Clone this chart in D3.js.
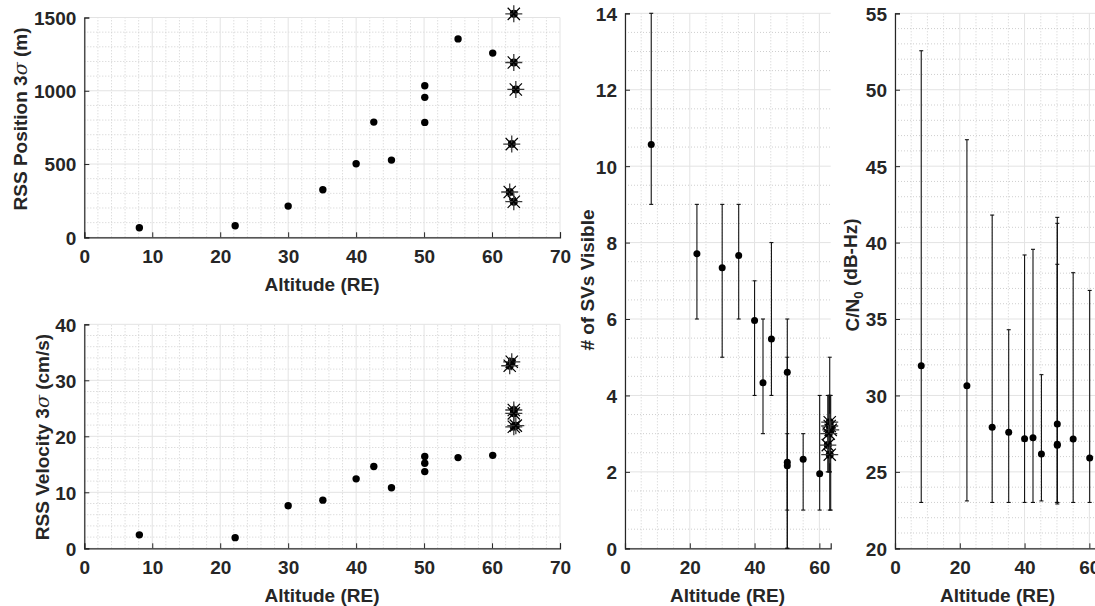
<!DOCTYPE html>
<html>
<head>
<meta charset="utf-8">
<script src="https://cdn.jsdelivr.net/npm/d3@7"></script>
<style>
  html, body { margin: 0; padding: 0; background: #fff; }
  svg { display: block; }
  text { font-family: "Liberation Sans", Arial, sans-serif; font-weight: bold; fill: #262626; }
</style>
</head>
<body>
<svg id="chart" width="1095" height="606"></svg>
<script>
// Sample altitudes (Earth radii) for the regular passes
const altitude = [8.1, 22.2, 30.0, 35.1, 40.0, 42.6, 45.2, 50.1, 50.1, 50.1, 55.0, 60.1];
// RSS 3-sigma position (m) and velocity (cm/s)
const posSigma = [65, 79, 213, 325, 502, 786, 527, 784, 955, 1034, 1354, 1257];
const velSigma = [2.4, 1.9, 7.6, 8.6, 12.4, 14.6, 10.8, 13.7, 15.2, 16.4, 16.2, 16.6];

// Near-apogee cases (asterisk markers)
const starAltitude = [63.2, 63.2, 63.5, 62.9, 62.6, 63.2];
const starPos = [1525, 1193, 1009, 636, 309, 243];
const starVel = [24.7, 21.7, 21.9, 33.3, 32.6, 24.1];

// Number of visible SVs: mean with min/max range
const svMean = [10.57, 7.71, 7.34, 7.66, 5.96, 4.33, 5.48, 4.61, 2.25, 2.16, 2.33, 1.95];
const svMin  = [9, 6, 5, 6, 4, 3, 4, 1, 0, 0, 1, 1];
const svMax  = [14, 9, 9, 9, 7, 6, 8, 6, 5, 3, 3, 4];
const starSvMean = [3.3, 3.2, 3.1, 3.0, 2.7, 2.45];
const starSvMin  = [2, 2, 1, 2, 2, 1];
const starSvMax  = [5, 4, 4, 4, 4, 4];

// Carrier-to-noise density (dB-Hz): mean with min/max range
const cnMean = [31.95, 30.64, 27.92, 27.59, 27.17, 27.24, 26.17, 28.13, 26.74, 26.8, 27.15, 25.9];
const cnMin  = [23.0, 23.1, 23.0, 23.0, 23.0, 23.0, 23.1, 23.0, 22.9, 23.0, 23.0, 23.0];
const cnMax  = [52.55, 46.73, 41.8, 34.3, 39.19, 39.56, 31.36, 41.65, 41.26, 38.58, 38.03, 36.87];

// Tick values
const altTicksWide = [0, 10, 20, 30, 40, 50, 60, 70];
const altTicksNarrow = [0, 20, 40, 60];
const posTicks = [0, 500, 1000, 1500];
const velTicks = [0, 10, 20, 30, 40];
const svTicks = [0, 2, 4, 6, 8, 10, 12, 14];
const cnTicks = [20, 25, 30, 35, 40, 45, 50, 55];

const svg = d3.select("#chart");
const FONT = 19;
const INK = "#262626";

function minorValues(domain, step, majors) {
  const out = [];
  for (let v = domain[0]; v <= domain[1] + 1e-9; v += step) {
    const r = Math.round(v * 1000) / 1000;
    if (!majors.some(m => Math.abs(m - r) < 1e-6)) out.push(r);
  }
  return out;
}

function panel(cfg) {
  const x = d3.scaleLinear().domain(cfg.xDomain).range(cfg.xRange);
  const y = d3.scaleLinear().domain(cfg.yDomain).range(cfg.yRange);
  const g = svg.append("g");
  const [x0, x1] = cfg.xRange, [y0, y1] = cfg.yRange;

  // minor grid (dotted)
  const grid = g.append("g");
  grid.selectAll(".mx").data(minorValues(cfg.xDomain, cfg.xMinor, cfg.xTicks)).join("line")
    .attr("x1", d => x(d)).attr("x2", d => x(d)).attr("y1", y0).attr("y2", y1)
    .attr("stroke", "#cfcfcf").attr("stroke-width", 1).attr("stroke-dasharray", "1,2");
  grid.selectAll(".my").data(minorValues(cfg.yDomain, cfg.yMinor, cfg.yTicks)).join("line")
    .attr("y1", d => y(d)).attr("y2", d => y(d)).attr("x1", x0).attr("x2", x1)
    .attr("stroke", "#cfcfcf").attr("stroke-width", 1).attr("stroke-dasharray", "1,2");
  // major grid
  grid.selectAll(".gx").data(cfg.xTicks).join("line")
    .attr("x1", d => x(d)).attr("x2", d => x(d)).attr("y1", y0).attr("y2", y1)
    .attr("stroke", "#e3e3e3").attr("stroke-width", 1);
  grid.selectAll(".gy").data(cfg.yTicks).join("line")
    .attr("y1", d => y(d)).attr("y2", d => y(d)).attr("x1", x0).attr("x2", x1)
    .attr("stroke", "#e3e3e3").attr("stroke-width", 1);

  // axes
  const xAxis = g.append("g").attr("transform", `translate(0,${y0})`)
    .call(d3.axisBottom(x).tickValues(cfg.xTicks).tickSize(-5).tickPadding(10).tickFormat(d3.format("d")));
  const yAxis = g.append("g").attr("transform", `translate(${x0},0)`)
    .call(d3.axisLeft(y).tickValues(cfg.yTicks).tickSize(-5).tickPadding(8).tickFormat(d3.format("d")));
  [xAxis, yAxis].forEach(a => {
    a.select(".domain").attr("stroke", INK).attr("stroke-width", 1.2);
    a.selectAll(".tick line").attr("stroke", INK);
    a.selectAll(".tick text").attr("font-size", FONT).attr("fill", INK)
      .attr("font-family", "Liberation Sans, Arial, sans-serif").attr("font-weight", "bold");
  });
  xAxis.selectAll(".tick text").attr("dy", "0.82em");
  yAxis.selectAll(".tick text").attr("dy", "0.36em");
  return { x, y, g };
}

function xLabel(cx, cy) {
  svg.append("text").attr("x", cx).attr("y", cy).attr("dy", "0.36em")
    .attr("text-anchor", "middle").attr("font-size", FONT).text("Altitude (RE)");
}

function yLabel(cx, cy, build) {
  const t = svg.append("text")
    .attr("transform", `translate(${cx},${cy}) rotate(-90)`)
    .attr("dy", "0.36em").attr("text-anchor", "middle").attr("font-size", FONT);
  build(t);
}

function dots(p, xs, ys, r) {
  p.g.append("g").selectAll("circle").data(xs.map((d, i) => [d, ys[i]])).join("circle")
    .attr("cx", d => p.x(d[0])).attr("cy", d => p.y(d[1])).attr("r", r).attr("fill", "#000");
}

function stars(p, xs, ys) {
  const arm = 8.5, diag = arm * 0.72;
  const sg = p.g.append("g").selectAll("g").data(xs.map((d, i) => [d, ys[i]])).join("g")
    .attr("transform", d => `translate(${p.x(d[0])},${p.y(d[1])})`);
  sg.append("circle").attr("r", 4).attr("fill", "#000");
  sg.append("path")
    .attr("d", `M${-arm},0H${arm}M0,${-arm}V${arm}`)
    .attr("stroke", "#3a3a3a").attr("stroke-width", 1.3);
  sg.append("path")
    .attr("d", `M${-diag},${-diag}L${diag},${diag}M${-diag},${diag}L${diag},${-diag}`)
    .attr("stroke", "#000").attr("stroke-width", 1.2);
}

function errorBars(p, xs, lo, hi) {
  const data = xs.map((d, i) => [d, lo[i], hi[i]]);
  const eg = p.g.append("g").attr("stroke", "#111").attr("stroke-width", 1.1);
  eg.selectAll(".v").data(data).join("line")
    .attr("x1", d => p.x(d[0])).attr("x2", d => p.x(d[0]))
    .attr("y1", d => p.y(d[1])).attr("y2", d => p.y(d[2]));
  eg.selectAll(".lo").data(data).join("line")
    .attr("x1", d => p.x(d[0]) - 2).attr("x2", d => p.x(d[0]) + 2)
    .attr("y1", d => p.y(d[1])).attr("y2", d => p.y(d[1]));
  eg.selectAll(".hi").data(data).join("line")
    .attr("x1", d => p.x(d[0]) - 2).attr("x2", d => p.x(d[0]) + 2)
    .attr("y1", d => p.y(d[2])).attr("y2", d => p.y(d[2]));
}

// Panel 1: position uncertainty
const p1 = panel({ xDomain: [0, 70], xRange: [84.3, 560], yDomain: [0, 1500], yRange: [237.3, 17.5],
  xTicks: altTicksWide, yTicks: posTicks, xMinor: 2, yMinor: 100 });
dots(p1, altitude, posSigma, 3.7);
stars(p1, starAltitude, starPos);
xLabel(322, 284);
yLabel(20, 119, t => {
  t.append("tspan").text("RSS Position 3");
  t.append("tspan").attr("font-style", "italic").attr("font-weight", "normal")
    .attr("font-family", "DejaVu Serif, serif").text("σ");
  t.append("tspan").text(" (m)");
});

// Panel 2: velocity uncertainty
const p2 = panel({ xDomain: [0, 70], xRange: [84.3, 560], yDomain: [0, 40], yRange: [548.3, 324.3],
  xTicks: altTicksWide, yTicks: velTicks, xMinor: 2, yMinor: 2 });
dots(p2, altitude, velSigma, 3.7);
stars(p2, starAltitude, starVel);
xLabel(322, 595);
yLabel(42, 437, t => {
  t.append("tspan").text("RSS Velocity 3");
  t.append("tspan").attr("font-style", "italic").attr("font-weight", "normal")
    .attr("font-family", "DejaVu Serif, serif").text("σ");
  t.append("tspan").text(" (cm/s)");
});

// Panel 3: visible SVs
const p3 = panel({ xDomain: [0, 63.5], xRange: [625, 830.7], yDomain: [0, 14], yRange: [548.3, 13.3],
  xTicks: altTicksNarrow, yTicks: svTicks, xMinor: 5, yMinor: 0.5 });
errorBars(p3, altitude, svMin, svMax);
errorBars(p3, starAltitude, starSvMin, starSvMax);
dots(p3, altitude, svMean, 3.5);
stars(p3, starAltitude, starSvMean);
xLabel(727.5, 595);
yLabel(587, 280, t => t.text("# of SVs Visible"));

// Panel 4: C/N0
const p4 = panel({ xDomain: [0, 63.5], xRange: [895, 1100.7], yDomain: [20, 55], yRange: [548.3, 13.3],
  xTicks: altTicksNarrow, yTicks: cnTicks, xMinor: 5, yMinor: 1 });
errorBars(p4, altitude, cnMin, cnMax);
dots(p4, altitude, cnMean, 3.5);
xLabel(997.5, 595);
yLabel(852, 275, t => {
  t.append("tspan").text("C/N");
  t.append("tspan").attr("font-size", FONT * 0.7).attr("dy", "0.3em").text("0");
  t.append("tspan").attr("dy", "-0.3em").text(" (dB-Hz)");
});
</script>
</body>
</html>
